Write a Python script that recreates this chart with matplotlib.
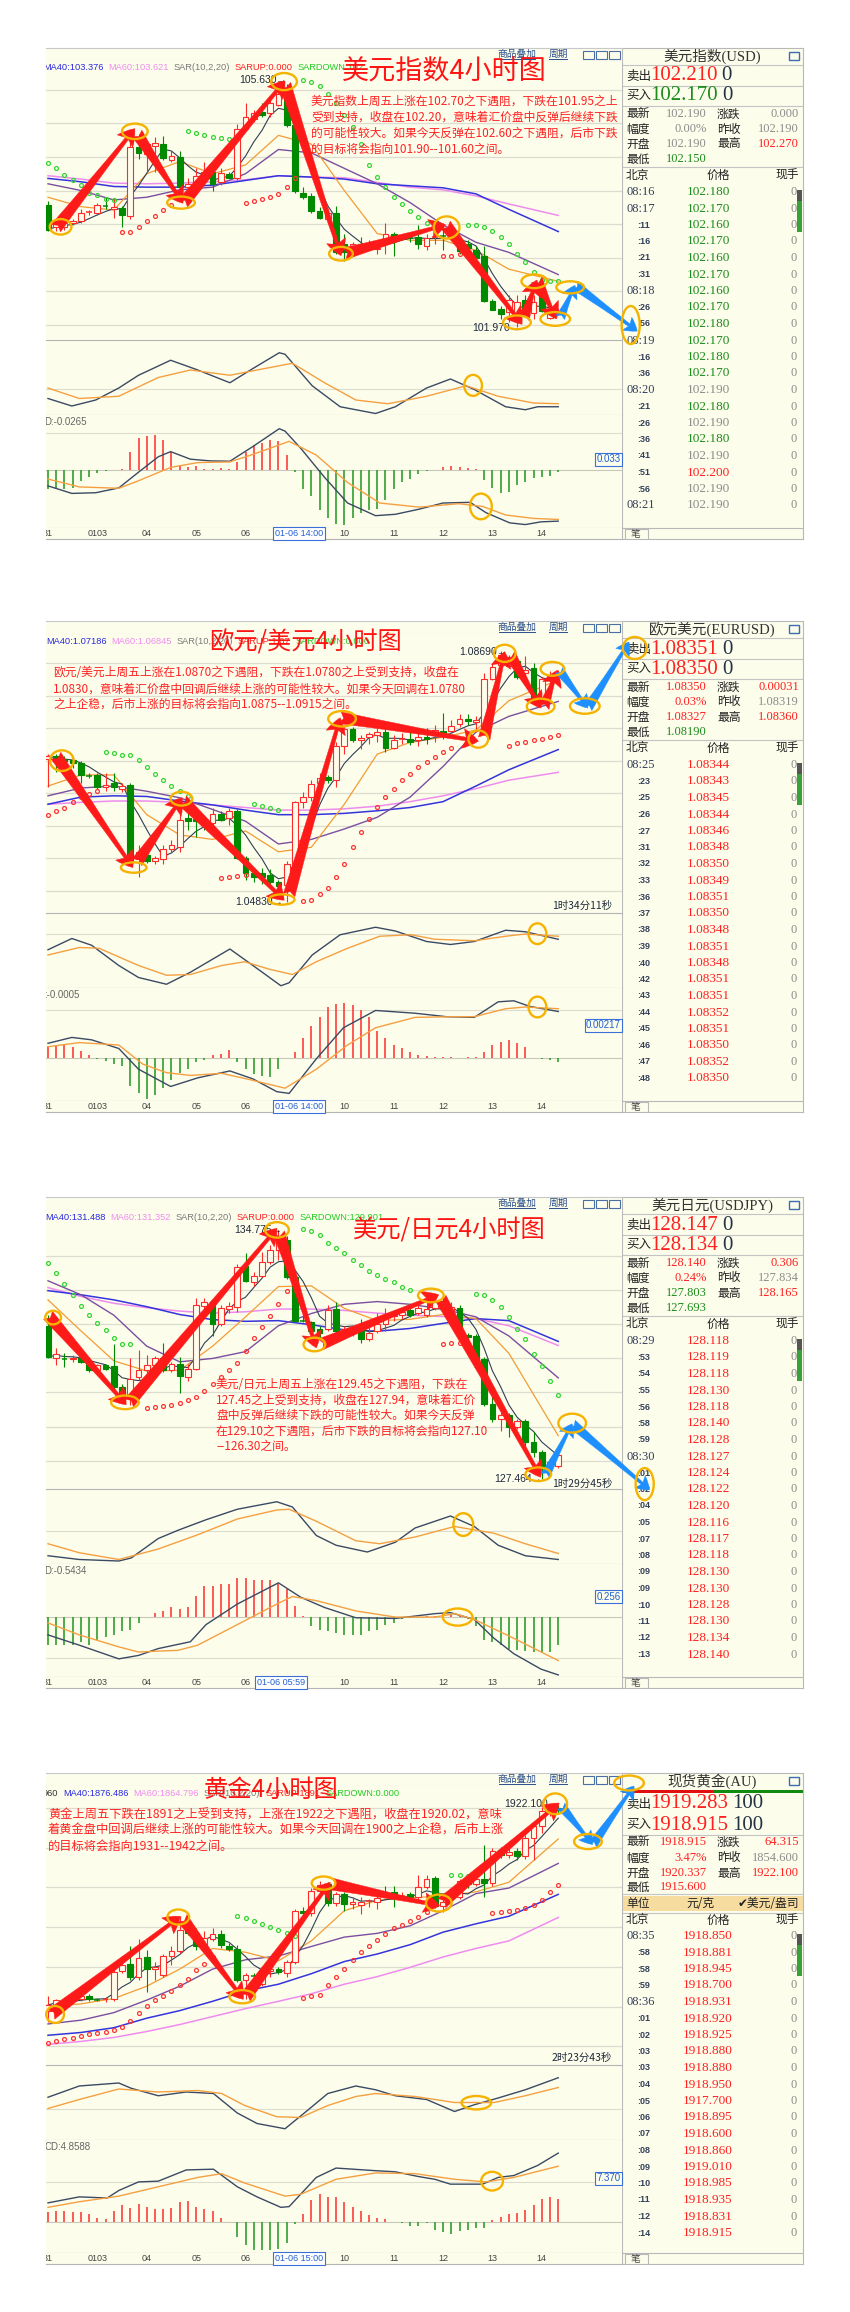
import matplotlib
matplotlib.use('Agg')
import matplotlib.pyplot as plt
from matplotlib.patches import Ellipse, Rectangle
import numpy as np
import pandas as pd

plt.rcParams['font.family'] = ['Noto Sans CJK SC', 'DejaVu Sans']
plt.rcParams['axes.unicode_minus'] = False

# ---------------- data ----------------
ma_x = [0, 4, 8, 12, 16, 20, 24, 28, 32, 36, 40, 44, 48, 52, 56, 62]
day_ticks = [0, 6, 12, 18, 24, 36, 42, 48, 54, 60]
day_labels = ['31', '0103', '04', '05', '06', '10', '11', '12', '13', '14']

# US dollar index (open, high, low, close)
usd_ohlc = [
    (103.78, 103.85, 103.40, 103.42), (103.45, 103.54, 103.40, 103.50), (103.46, 103.57, 103.42, 103.52),
    (103.52, 103.57, 103.49, 103.54), (103.54, 103.72, 103.51, 103.67), (103.67, 103.71, 103.64, 103.68),
    (103.67, 103.82, 103.64, 103.78), (103.78, 103.90, 103.72, 103.77), (103.73, 103.87, 103.59, 103.76),
    (103.74, 103.77, 103.46, 103.63), (103.62, 104.89, 103.57, 104.64), (104.64, 104.84, 104.47, 104.56),
    (104.55, 104.74, 104.28, 104.69), (104.66, 104.79, 104.28, 104.70), (104.69, 104.81, 104.46, 104.48),
    (104.46, 104.59, 104.43, 104.51), (104.50, 104.59, 103.97, 104.05), (104.05, 104.18, 104.00, 104.10),
    (104.08, 104.33, 104.05, 104.22), (104.20, 104.43, 104.18, 104.28), (104.27, 104.38, 104.00, 104.10),
    (104.13, 104.33, 104.08, 104.26), (104.24, 104.28, 104.18, 104.18), (104.18, 104.99, 104.15, 104.92),
    (104.92, 105.30, 104.89, 105.10), (105.07, 105.20, 105.02, 105.15), (105.17, 105.30, 105.10, 105.12),
    (105.15, 105.40, 105.10, 105.30), (105.27, 105.63, 105.25, 105.44), (105.44, 105.58, 104.94, 104.97),
    (104.98, 105.05, 103.97, 104.00), (103.97, 104.05, 103.88, 103.90), (103.92, 103.97, 103.67, 103.70),
    (103.70, 103.75, 103.58, 103.59), (103.57, 103.72, 103.51, 103.67), (103.67, 103.77, 103.06, 103.08),
    (103.20, 103.36, 102.95, 103.08), (103.08, 103.23, 103.03, 103.20), (103.20, 103.31, 103.08, 103.12),
    (103.16, 103.26, 103.11, 103.17), (103.13, 103.26, 103.06, 103.15), (103.23, 103.51, 103.05, 103.36),
    (103.36, 103.39, 103.03, 103.31), (103.31, 103.36, 103.26, 103.32), (103.31, 103.36, 103.23, 103.30),
    (103.31, 103.49, 103.13, 103.20), (103.18, 103.36, 103.11, 103.30), (103.31, 103.41, 103.21, 103.31),
    (103.34, 103.51, 103.11, 103.33), (103.32, 103.39, 103.26, 103.30), (103.26, 103.31, 103.06, 103.10),
    (103.20, 103.26, 103.03, 103.15), (103.12, 103.18, 103.00, 103.00), (103.03, 103.18, 102.34, 102.35),
    (102.35, 102.39, 102.22, 102.22), (102.24, 102.29, 102.09, 102.16), (102.19, 102.44, 102.04, 102.37),
    (102.09, 102.44, 101.97, 102.34), (102.37, 102.44, 102.14, 102.16), (102.18, 102.44, 102.09, 102.34),
    (102.55, 102.60, 102.19, 102.21), (102.11, 102.29, 102.09, 102.21), (102.18, 102.26, 102.15, 102.20),
]
usd_ma10 = [103.90, 103.76, 103.71, 104.25, 104.43, 104.25, 104.38, 104.82, 104.69, 104.00, 103.36, 103.26, 103.26, 103.11, 102.83, 102.65]
usd_ma20 = [104.10, 104.00, 103.86, 103.90, 104.01, 104.05, 104.25, 104.61, 104.56, 104.33, 104.10, 103.82, 103.49, 103.23, 103.08, 102.75]
usd_ma40 = [104.18, 104.13, 104.06, 104.05, 104.05, 104.08, 104.15, 104.22, 104.20, 104.17, 104.10, 104.07, 104.04, 103.95, 103.72, 103.39]
usd_ma60 = [104.22, 104.17, 104.11, 104.10, 104.11, 104.13, 104.16, 104.22, 104.20, 104.19, 104.12, 104.05, 104.01, 103.92, 103.80, 103.63]
usd_sar_dn = [(0, [104.41, 104.33, 104.23, 104.15, 104.08, 103.97, 103.93, 103.88, 103.86]),
              (17, [104.88, 104.85, 104.83, 104.80, 104.78, 104.77]),
              (31, [105.65, 105.61, 105.56, 105.43, 105.30, 105.12, 104.94, 104.69, 104.38, 104.20, 104.05, 103.91, 103.80, 103.69, 103.60, 103.51]),
              (51, [103.49, 103.48, 103.46, 103.40, 103.31, 103.20, 103.06, 102.93, 102.79, 102.67, 102.66, 102.66])]
usd_sar_up = [(9, [103.39, 103.39, 103.45, 103.54, 103.62, 103.71, 103.78]),
              (24, [103.81, 103.85, 103.88, 103.91, 103.95, 104.05, 104.18]),
              (48, [103.03, 103.03, 103.06])]
usd_k_x = [0, 2.9, 5.8, 8.6, 11, 14.9, 18.2, 22.1, 24.9, 28.1, 28.8, 32.1, 35.5, 39.8, 42.2, 46, 48.9, 51.8, 55.6, 58, 59.5, 62]
usd_k = [22, 12, 20, 36, 53, 73, 60, 43, 62, 83, 81, 39, 11, 2, 11, 36, 48, 34, 11, 7, 11, 11]
usd_d_x = [0, 3.8, 8.6, 13.4, 17.3, 22.1, 25.4, 29.7, 33.6, 37.4, 41.3, 46, 50.8, 54.7, 59, 62]
usd_d = [36, 22, 25, 50, 60, 53, 60, 69, 43, 20, 15, 25, 39, 25, 16, 15]
usd_dif_x = [0, 2.9, 5.8, 8.6, 11, 13.4, 14.9, 17.3, 19.7, 22.1, 24.9, 28.1, 28.8, 30.7, 33.6, 36.4, 39.8, 42.2, 45.1, 48, 51.3, 53.2, 56.1, 58, 59.9, 62]
usd_dif = [-0.047, -0.069, -0.067, -0.053, -0.007, 0.038, 0.053, 0.031, 0.026, 0.025, 0.068, 0.12, 0.113, 0.063, -0.022, -0.097, -0.134, -0.13, -0.115, -0.097, -0.095, -0.125, -0.155, -0.16, -0.152, -0.15]
usd_dea_x = [0, 3.8, 8.6, 11, 14.9, 18.2, 22.1, 24.9, 29.3, 32.6, 36.4, 40.3, 45.1, 49.9, 52.8, 55.6, 59, 62]
usd_dea = [-0.027, -0.05, -0.054, -0.032, 0.007, 0.021, 0.023, 0.045, 0.083, 0.043, -0.037, -0.097, -0.109, -0.099, -0.107, -0.132, -0.142, -0.145]
usd_hist = [-0.057, -0.057, -0.055, -0.052, -0.032, -0.022, -0.009, -0.003, -0.002, 0.001,
            0.053, 0.093, 0.098, 0.103, 0.088, 0.053, 0.013, 0.008, 0.011, 0.003,
            0.001, 0.005, 0.001, 0.023, 0.053, 0.073, 0.078, 0.088, 0.083, 0.043,
            -0.007, -0.057, -0.077, -0.117, -0.142, -0.157, -0.162, -0.142, -0.127, -0.117,
            -0.115, -0.087, -0.057, -0.037, -0.027, -0.012, -0.005, -0.002, 0.008, 0.011,
            0.008, 0.005, 0.003, -0.029, -0.052, -0.067, -0.065, -0.045, -0.037, -0.025,
            -0.02, -0.017, -0.007]
usd_red_arrows = [((0.96, 103.44), (10.55, 104.92)), ((10.8, 104.85), (16.4, 103.81)), ((16.4, 103.81), (28.8, 105.63)),
                  ((28.8, 105.58), (35.6, 103.03)), ((36.0, 103.06), (48.3, 103.49)), ((48.3, 103.49), (57.6, 102.01)),
                  ((57.8, 102.09), (59.4, 102.67)), ((59.4, 102.67), (61.8, 102.09))]
usd_blue_arrows = [((62.25, 102.11), (64.03, 102.59)), ((64.03, 102.59), (71.6, 101.91))]
usd_rings = [(1.53, 103.46, 2.64, 0.23), (10.55, 104.88, 3.12, 0.23), (16.16, 103.82, 3.36, 0.18), (28.68, 105.62, 3.12, 0.255),
             (35.6, 103.06, 2.88, 0.204), (48.44, 103.45, 3.12, 0.33), (56.98, 102.04, 3.36, 0.204), (59.09, 102.65, 3.12, 0.204),
             (61.63, 102.09, 3.6, 0.204), (63.45, 102.56, 3.36, 0.18), (70.8, 102.0, 2.2, 0.565)]
usd_note = ['美元指数上周五上涨在102.70之下遇阻，下跌在101.95之上',
            '受到支持，收盘在102.20，意味着汇价盘中反弹后继续下跌',
            '的可能性较大。如果今天反弹在102.60之下遇阻，后市下跌',
            '的目标将会指向101.90--101.60之间。']
usd_fields = [('最新', '102.190', 'k'), ('涨跌', '0.000', 'k'), ('幅度', '0.00%', 'k'), ('昨收', '102.190', 'k'),
              ('开盘', '102.190', 'k'), ('最高', '102.270', 'r'), ('最低', '102.150', 'g')]
usd_ticks = [('08:16', '102.180', 'g'), ('08:17', '102.170', 'g'), (':11', '102.160', 'g'), (':16', '102.170', 'g'),
             (':21', '102.160', 'g'), (':31', '102.170', 'g'), ('08:18', '102.160', 'g'), (':26', '102.170', 'g'),
             (':56', '102.180', 'g'), ('08:19', '102.170', 'g'), (':16', '102.180', 'g'), (':36', '102.170', 'g'),
             ('08:20', '102.190', 'k'), (':21', '102.180', 'g'), (':26', '102.190', 'k'), (':36', '102.180', 'g'),
             (':41', '102.190', 'k'), (':51', '102.200', 'r'), (':56', '102.190', 'k'), ('08:21', '102.190', 'k')]

# euro / dollar
eur_ohlc = [
    (1.0702, 1.0710, 1.0660, 1.0707), (1.0707, 1.0710, 1.0683, 1.0701), (1.0702, 1.0707, 1.0691, 1.0699),
    (1.0701, 1.0705, 1.0689, 1.0697), (1.0697, 1.0699, 1.0665, 1.0678), (1.0678, 1.0681, 1.0673, 1.0677),
    (1.0678, 1.0681, 1.0657, 1.0660), (1.0659, 1.0681, 1.0654, 1.0662), (1.0666, 1.0681, 1.0654, 1.0660),
    (1.0657, 1.0665, 1.0652, 1.0661), (1.0662, 1.0665, 1.0541, 1.0544), (1.0549, 1.0570, 1.0522, 1.0559),
    (1.0555, 1.0562, 1.0543, 1.0546), (1.0546, 1.0554, 1.0541, 1.0551), (1.0549, 1.0570, 1.0541, 1.0565),
    (1.0564, 1.0578, 1.0559, 1.0570), (1.0567, 1.0638, 1.0559, 1.0609), (1.0612, 1.0623, 1.0593, 1.0607),
    (1.0610, 1.0625, 1.0583, 1.0607), (1.0607, 1.0615, 1.0593, 1.0601), (1.0604, 1.0628, 1.0599, 1.0618),
    (1.0618, 1.0623, 1.0607, 1.0609), (1.0612, 1.0628, 1.0601, 1.0623), (1.0623, 1.0625, 1.0549, 1.0551),
    (1.0551, 1.0554, 1.0517, 1.0528), (1.0528, 1.0535, 1.0514, 1.0522), (1.0527, 1.0535, 1.0511, 1.0522),
    (1.0525, 1.0533, 1.0511, 1.0514), (1.0514, 1.0517, 1.0493, 1.0507), (1.0509, 1.0546, 1.0483, 1.0541),
    (1.0541, 1.0638, 1.0538, 1.0636), (1.0636, 1.0652, 1.0628, 1.0644), (1.0644, 1.0670, 1.0638, 1.0664),
    (1.0665, 1.0681, 1.0660, 1.0674), (1.0675, 1.0678, 1.0665, 1.0670), (1.0671, 1.0728, 1.0660, 1.0722),
    (1.0723, 1.0755, 1.0710, 1.0748), (1.0748, 1.0752, 1.0728, 1.0731), (1.0731, 1.0739, 1.0718, 1.0735),
    (1.0736, 1.0744, 1.0726, 1.0741), (1.0739, 1.0750, 1.0728, 1.0744), (1.0744, 1.0750, 1.0713, 1.0720),
    (1.0720, 1.0739, 1.0718, 1.0732), (1.0733, 1.0742, 1.0726, 1.0733), (1.0733, 1.0744, 1.0724, 1.0729),
    (1.0731, 1.0750, 1.0723, 1.0736), (1.0736, 1.0750, 1.0726, 1.0733), (1.0739, 1.0755, 1.0728, 1.0747),
    (1.0746, 1.0773, 1.0734, 1.0742), (1.0746, 1.0763, 1.0742, 1.0753), (1.0756, 1.0771, 1.0752, 1.0764),
    (1.0764, 1.0771, 1.0755, 1.0761), (1.0760, 1.0768, 1.0744, 1.0763), (1.0744, 1.0834, 1.0739, 1.0825),
    (1.0826, 1.0850, 1.0824, 1.0844), (1.0847, 1.0869, 1.0845, 1.0863), (1.0845, 1.0863, 1.0842, 1.0850),
    (1.0853, 1.0858, 1.0826, 1.0829), (1.0834, 1.0861, 1.0832, 1.0839), (1.0842, 1.0850, 1.0789, 1.0795),
    (1.0797, 1.0829, 1.0787, 1.0825), (1.0824, 1.0837, 1.0818, 1.0830), (1.0829, 1.0839, 1.0824, 1.0834),
]
eur_ma10 = [1.0661, 1.0678, 1.0678, 1.0617, 1.0586, 1.0579, 1.0592, 1.0560, 1.0567, 1.0633, 1.0710, 1.0728, 1.0736, 1.0747, 1.0792, 1.0824]
eur_ma20 = [1.0646, 1.0658, 1.0661, 1.0653, 1.0643, 1.0625, 1.0607, 1.0572, 1.0579, 1.0595, 1.0613, 1.0644, 1.0691, 1.0744, 1.0768, 1.0791]
eur_ma40 = [1.0633, 1.0644, 1.0646, 1.0645, 1.0638, 1.0632, 1.0624, 1.0617, 1.0617, 1.0619, 1.0623, 1.0628, 1.0637, 1.0661, 1.0686, 1.0717]
eur_ma60 = [1.0633, 1.0636, 1.0638, 1.0638, 1.0636, 1.0632, 1.0628, 1.0624, 1.0624, 1.0626, 1.0630, 1.0637, 1.0646, 1.0657, 1.0670, 1.0682]
eur_sar_up = [(0, [1.0616, 1.0622, 1.0628, 1.0636, 1.0644, 1.0648, 1.0653]),
              (21, [1.0519, 1.0521, 1.0523, 1.0525]),
              (31, [1.0484, 1.0486, 1.0495, 1.0505, 1.0521, 1.0542, 1.0567, 1.0590, 1.0611, 1.0629, 1.0644, 1.0657,
                    1.0670, 1.0680, 1.0690, 1.0698, 1.0706, 1.0713, 1.0719]),
              (56, [1.0723, 1.0727, 1.0729, 1.0731, 1.0734, 1.0736, 1.0740])]
eur_sar_dn = [(7, [1.0713, 1.0711, 1.0709, 1.0708, 1.0701, 1.0690, 1.0680, 1.0670, 1.0661, 1.0653, 1.0645]),
              (25, [1.0633, 1.0630, 1.0628, 1.0624])]
eur_k_x = [0, 2.9, 5.3, 8.6, 11, 14.4, 17.3, 22.1, 24.9, 28.3, 29.3, 32.1, 35.5, 39.8, 42.2, 46, 48.9, 51.8, 55.6, 58, 62]
eur_k = [51, 66, 57, 30, 14, 5, 21, 52, 30, 3, 7, 44, 71, 81, 76, 62, 58, 62, 77, 75, 65]
eur_d_x = [0, 3.8, 6.2, 11, 14.4, 17.3, 21.1, 23.9, 26.9, 29.7, 32.6, 36.4, 40.3, 44.1, 47, 51.8, 55.6, 58, 62]
eur_d = [44, 54, 53, 30, 17, 18, 30, 35, 25, 18, 35, 53, 69, 71, 65, 63, 69, 72, 69]
eur_dif_x = [0, 2.9, 5.3, 8.6, 11, 14.9, 18.2, 22.1, 24.9, 27.8, 29.3, 32.6, 35.9, 39.8, 44.6, 48.4, 51.8, 54.7, 56.6, 58.5, 62]
eur_dif = [0.042, 0.059, 0.052, 0.027, -0.033, -0.083, -0.058, -0.038, -0.061, -0.098, -0.103, -0.003, 0.087, 0.137, 0.129, 0.119, 0.117, 0.162, 0.165, 0.149, 0.134]
eur_dea_x = [0, 3.8, 8.6, 11.5, 14.4, 17.3, 21.1, 24.5, 28.8, 32.6, 36.4, 39.8, 44.6, 49.4, 51.8, 55.6, 58, 62]
eur_dea = [0.032, 0.044, 0.037, -0.018, -0.043, -0.051, -0.045, -0.063, -0.088, -0.033, 0.037, 0.087, 0.117, 0.119, 0.119, 0.142, 0.147, 0.142]
eur_hist = [0.035, 0.035, 0.037, 0.032, 0.019, 0.007, -0.003, -0.008, -0.018, -0.023,
            -0.083, -0.103, -0.118, -0.108, -0.088, -0.063, -0.043, -0.033, -0.013, -0.005,
            0.007, 0.012, 0.022, -0.013, -0.033, -0.048, -0.053, -0.055, -0.033, -0.002,
            0.017, 0.057, 0.092, 0.117, 0.147, 0.157, 0.159, 0.152, 0.137, 0.117,
            0.077, 0.057, 0.037, 0.027, 0.017, 0.009, 0.004, 0.002, 0.001, 0.001,
            0.0, 0.001, 0.002, 0.017, 0.037, 0.047, 0.052, 0.042, 0.030, -0.001,
            -0.003, -0.006, -0.013]
eur_red_arrows = [((0.96, 1.07077), (10.31, 1.05358)), ((10.8, 1.05438), (16.3, 1.06432)), ((16.3, 1.06390), (28.7, 1.04856)),
                  ((29.3, 1.04936), (35.5, 1.07659)), ((35.5, 1.07659), (52.3, 1.07299)), ((53.0, 1.07341), (55.5, 1.08674)),
                  ((56.1, 1.08637), (59.9, 1.07807)), ((60.2, 1.07817), (61.9, 1.08389))]
eur_blue_arrows = [((62.1, 1.08389), (65.6, 1.07807)), ((65.6, 1.07807), (70.6, 1.08822))]
eur_rings = [(1.68, 1.07000, 2.88, 0.00317), (10.41, 1.05358, 3.12, 0.00159), (16.21, 1.06416, 2.64, 0.00212),
             (28.39, 1.04867, 3.12, 0.00159), (35.73, 1.07643, 3.36, 0.00238), (52.28, 1.07331, 2.4, 0.00264),
             (55.49, 1.08648, 2.64, 0.00264), (59.86, 1.07833, 3.36, 0.00238), (61.29, 1.08410, 2.88, 0.00212),
             (65.23, 1.07839, 3.6, 0.00238), (71.3, 1.08730, 2.9, 0.00338)]
eur_note = ['欧元/美元上周五上涨在1.0870之下遇阻，下跌在1.0780之上受到支持，收盘在',
            '1.0830，意味着汇价盘中回调后继续上涨的可能性较大。如果今天回调在1.0780',
            '之上企稳，后市上涨的目标将会指向1.0875--1.0915之间。']
eur_fields = [('最新', '1.08350', 'r'), ('涨跌', '0.00031', 'r'), ('幅度', '0.03%', 'r'), ('昨收', '1.08319', 'k'),
              ('开盘', '1.08327', 'r'), ('最高', '1.08360', 'r'), ('最低', '1.08190', 'g')]
eur_times = ['08:25', ':23', ':25', ':26', ':27', ':31', ':32', ':33', ':36', ':37',
             ':38', ':39', ':40', ':42', ':43', ':44', ':45', ':46', ':47', ':48']
eur_prices = ['1.08344', '1.08343', '1.08345', '1.08344', '1.08346', '1.08348', '1.08350', '1.08349', '1.08351', '1.08350',
              '1.08348', '1.08351', '1.08348', '1.08351', '1.08351', '1.08352', '1.08351', '1.08350', '1.08352', '1.08350']

# dollar / yen
jpy_ohlc = [
    (131.94, 132.27, 131.00, 131.05), (131.00, 131.31, 130.80, 131.13), (131.02, 131.15, 130.75, 130.99),
    (130.98, 131.10, 130.90, 131.02), (131.00, 131.05, 130.87, 130.90), (130.90, 131.05, 130.60, 130.67),
    (130.65, 130.85, 130.60, 130.80), (130.80, 130.85, 130.65, 130.68), (130.77, 131.41, 130.04, 130.16),
    (130.16, 130.25, 129.74, 129.86), (129.86, 131.00, 129.64, 130.40), (130.45, 131.26, 130.37, 130.65),
    (130.65, 131.10, 130.57, 130.80), (130.80, 131.07, 130.65, 131.00), (131.00, 131.46, 130.60, 130.67),
    (130.65, 130.90, 130.60, 130.83), (130.85, 131.05, 129.99, 130.47), (130.45, 130.85, 130.35, 130.70),
    (130.70, 132.77, 130.65, 132.57), (132.55, 132.77, 132.37, 132.67), (132.67, 132.72, 131.66, 132.01),
    (132.01, 132.57, 131.96, 132.47), (132.45, 132.67, 132.32, 132.55), (132.52, 133.78, 132.37, 133.68),
    (133.70, 134.09, 133.23, 133.28), (133.23, 133.53, 133.13, 133.43), (133.43, 134.14, 133.38, 133.83),
    (133.83, 134.34, 133.78, 134.19), (134.19, 134.775, 133.89, 134.47), (134.47, 134.59, 133.33, 133.40),
    (133.38, 133.43, 132.06, 132.11), (132.14, 132.27, 132.06, 132.11), (132.06, 132.11, 131.76, 131.81),
    (131.86, 131.96, 131.61, 131.76), (131.86, 132.57, 131.81, 132.42), (132.45, 132.67, 131.76, 131.81),
    (131.78, 131.96, 131.71, 131.86), (131.78, 131.96, 131.66, 131.91), (131.91, 132.17, 131.46, 131.56),
    (131.56, 132.06, 131.51, 131.76), (131.81, 132.32, 131.76, 132.01), (132.01, 132.47, 131.81, 132.22),
    (132.25, 132.37, 132.11, 132.29), (132.27, 132.47, 132.17, 132.37), (132.42, 132.57, 132.22, 132.29),
    (132.32, 132.67, 132.27, 132.47), (132.29, 132.67, 132.22, 132.45), (132.49, 132.77, 132.42, 132.67),
    (132.69, 132.82, 132.37, 132.45), (132.42, 132.67, 132.32, 132.52), (132.49, 132.57, 131.61, 131.68),
    (131.68, 131.76, 131.46, 131.64), (131.66, 131.71, 130.90, 130.97), (130.97, 131.05, 129.59, 129.66),
    (129.66, 130.04, 129.13, 129.23), (129.21, 129.44, 128.88, 129.34), (129.34, 129.39, 128.68, 128.98),
    (128.98, 129.23, 128.93, 129.16), (129.16, 129.23, 128.42, 128.55), (128.55, 128.83, 128.12, 128.24),
    (128.24, 128.32, 127.464, 127.80), (127.84, 128.07, 127.72, 127.97), (127.84, 128.22, 127.77, 128.15),
]
jpy_ma10 = [132.72, 131.81, 130.93, 130.63, 130.65, 131.36, 132.22, 133.11, 133.13, 132.47, 132.11, 132.15, 132.29, 132.17, 131.15, 128.73]
jpy_ma20 = [133.28, 132.87, 132.27, 131.36, 130.90, 131.00, 131.20, 131.96, 132.32, 132.59, 132.67, 132.59, 132.45, 132.22, 131.66, 130.43]
jpy_ma40 = [132.99, 132.87, 132.72, 132.52, 132.29, 132.14, 132.09, 132.11, 131.99, 131.84, 131.80, 131.88, 132.03, 132.17, 132.11, 131.50]
jpy_ma60 = [133.08, 132.82, 132.62, 132.49, 132.39, 132.33, 132.37, 132.45, 132.45, 132.41, 132.33, 132.27, 132.23, 132.17, 131.96, 131.38]
jpy_sar_dn = [(0, [133.80, 133.51, 133.20, 132.85, 132.55, 132.29, 132.04, 131.83, 131.61, 131.43, 131.41]),
              (31, [134.80, 134.74, 134.63, 134.39, 134.24, 134.09, 133.89, 133.73, 133.58, 133.46, 133.33, 133.23, 133.10, 133.00]),
              (52, [132.89, 132.85, 132.72, 132.52, 132.22, 131.86, 131.56, 131.13, 130.77, 130.33, 129.92])]
jpy_sar_up = [(12, [129.54, 129.56, 129.59, 129.64, 129.69, 129.79, 129.86, 130.04, 130.26, 130.45, 130.65, 130.87,
                    131.22, 131.61, 131.91, 132.25, 132.59, 132.98]),
              (48, [131.41, 131.44, 131.46])]
jpy_k_x = [0, 3.8, 8.6, 10.1, 13.4, 15.8, 19.2, 23, 27.8, 29.7, 32.6, 35, 38.8, 42.2, 44.6, 48.9, 51.8, 54.7, 58, 62]
jpy_k = [11, 6, 4, 8, 34, 45, 59, 73, 83, 76, 38, 25, 16, 29, 48, 64, 50, 25, 11, 6]
jpy_d_x = [0, 3.8, 8.6, 13.4, 18.2, 23, 27.8, 29.3, 32.6, 37.4, 40.3, 44.6, 49.4, 54.2, 58, 62]
jpy_d = [27, 15, 6, 20, 39, 60, 72, 73, 57, 31, 27, 36, 50, 41, 27, 14]
jpy_dif_x = [0, 3.8, 8.6, 11, 13.4, 17.3, 19.2, 23, 28, 30.7, 33.6, 37.4, 42.2, 47, 48.9, 51.8, 54.2, 56.6, 59.9, 62]
jpy_dif = [-0.053, -0.083, -0.123, -0.113, -0.093, -0.073, -0.023, 0.037, 0.099, 0.057, 0.027, -0.003, -0.005, 0.009, 0.012, -0.008, -0.063, -0.108, -0.153, -0.17]
jpy_dea_x = [0, 3.8, 8.6, 11, 15.8, 18.2, 23, 27.8, 29.7, 32.6, 37.4, 42.2, 47, 49.4, 51.8, 56.6, 62]
jpy_dea = [-0.018, -0.053, -0.088, -0.103, -0.098, -0.083, -0.023, 0.037, 0.059, 0.047, 0.017, -0.001, -0.001, 0.009, -0.008, -0.063, -0.128]
jpy_hist = [-0.083, -0.083, -0.083, -0.083, -0.073, -0.083, -0.068, -0.058, -0.053, -0.043,
            -0.038, -0.018, -0.002, 0.012, 0.017, 0.027, 0.022, 0.027, 0.062, 0.089,
            0.089, 0.095, 0.095, 0.114, 0.112, 0.107, 0.107, 0.107, 0.097, 0.082,
            0.032, 0.001, -0.028, -0.038, -0.043, -0.048, -0.053, -0.053, -0.053, -0.043,
            -0.038, -0.023, -0.018, -0.008, -0.003, -0.002, 0.002, 0.003, 0.009, 0.007,
            0.005, -0.008, -0.028, -0.068, -0.073, -0.083, -0.093, -0.098, -0.101, -0.103,
            -0.103, -0.103, -0.083]
jpy_red_arrows = [((0.0, 132.27), (9.5, 129.64)), ((9.83, 129.69), (27.82, 134.82)), ((28.06, 134.69), (32.61, 131.31)),
                  ((33.09, 131.41), (47.48, 132.87)), ((47.72, 132.77), (59.86, 127.51))]
jpy_blue_arrows = [((60.43, 127.56), (63.69, 129.08)), ((63.69, 129.08), (73.1, 127.14))]
jpy_rings = [(0.62, 132.20, 1.92, 0.40), (9.35, 129.71, 3.36, 0.40), (27.82, 134.775, 2.88, 0.455), (32.37, 131.41, 2.64, 0.40),
             (46.52, 132.85, 3.12, 0.40), (59.57, 127.60, 3.12, 0.40), (63.69, 129.10, 3.36, 0.556), (72.5, 127.31, 2.2, 0.94)]
jpy_note = ['美元/日元上周五上涨在129.45之下遇阻，下跌在',
            '127.45之上受到支持，收盘在127.94，意味着汇价',
            '盘中反弹后继续下跌的可能性较大。如果今天反弹',
            '在129.10之下遇阻，后市下跌的目标将会指向127.10',
            '--126.30之间。']
jpy_fields = [('最新', '128.140', 'r'), ('涨跌', '0.306', 'r'), ('幅度', '0.24%', 'r'), ('昨收', '127.834', 'k'),
              ('开盘', '127.803', 'g'), ('最高', '128.165', 'r'), ('最低', '127.693', 'g')]
jpy_times = ['08:29', ':53', ':54', ':55', ':56', ':58', ':59', '08:30', ':01', ':02',
             ':04', ':05', ':07', ':08', ':09', ':09', ':10', ':11', ':12', ':13']
jpy_prices = ['128.118', '128.119', '128.118', '128.130', '128.118', '128.140', '128.128', '128.127', '128.124', '128.122',
              '128.120', '128.116', '128.117', '128.118', '128.130', '128.130', '128.128', '128.130', '128.134', '128.140']

# spot gold
gold_ohlc = [
    (1818.0, 1825.6, 1812.3, 1820.8), (1819.9, 1824.1, 1817.0, 1823.3), (1823.3, 1824.6, 1821.8, 1822.9),
    (1822.9, 1824.1, 1821.8, 1823.7), (1823.7, 1825.9, 1822.7, 1825.2), (1825.6, 1826.5, 1822.7, 1823.7),
    (1823.7, 1824.6, 1822.7, 1823.5), (1823.5, 1824.6, 1822.2, 1823.9), (1823.7, 1838.9, 1822.7, 1837.4),
    (1837.9, 1845.5, 1837.0, 1841.2), (1841.7, 1850.3, 1833.2, 1835.1), (1834.7, 1854.1, 1833.2, 1844.6),
    (1845.0, 1848.4, 1827.5, 1839.2), (1839.2, 1842.7, 1833.2, 1840.0), (1836.0, 1846.5, 1835.1, 1845.5),
    (1845.5, 1850.3, 1840.8, 1848.0), (1848.0, 1865.5, 1846.9, 1858.4), (1858.8, 1861.7, 1856.0, 1856.9),
    (1856.9, 1859.8, 1848.4, 1850.7), (1850.7, 1857.9, 1849.3, 1854.5), (1854.1, 1859.4, 1853.1, 1856.6),
    (1856.6, 1858.8, 1849.3, 1850.9), (1850.7, 1852.2, 1848.0, 1849.1), (1848.9, 1851.2, 1832.2, 1833.6),
    (1833.6, 1836.9, 1823.7, 1835.7), (1835.7, 1837.0, 1834.1, 1835.5), (1831.3, 1839.8, 1830.3, 1838.5),
    (1837.9, 1839.8, 1835.1, 1838.9), (1838.9, 1839.8, 1836.6, 1837.4), (1837.0, 1843.6, 1835.1, 1842.7),
    (1842.7, 1869.3, 1841.7, 1867.9), (1868.3, 1870.2, 1865.5, 1867.0), (1867.0, 1879.7, 1865.5, 1878.4),
    (1878.4, 1883.0, 1876.9, 1881.2), (1881.6, 1882.6, 1870.8, 1872.0), (1872.0, 1877.8, 1870.8, 1876.5),
    (1876.9, 1877.8, 1868.3, 1871.6), (1871.6, 1875.0, 1869.3, 1872.7), (1871.2, 1875.0, 1866.4, 1872.7),
    (1872.7, 1874.0, 1870.2, 1873.1), (1872.7, 1876.9, 1869.3, 1874.6), (1877.3, 1880.7, 1875.0, 1875.9),
    (1877.8, 1880.7, 1870.2, 1875.4), (1875.4, 1877.8, 1874.0, 1875.9), (1876.5, 1877.8, 1874.6, 1875.4),
    (1875.4, 1886.4, 1873.5, 1880.3), (1880.3, 1886.4, 1879.2, 1884.5), (1884.9, 1886.0, 1869.7, 1870.8),
    (1870.8, 1875.0, 1867.4, 1872.7), (1877.3, 1878.8, 1874.0, 1875.4), (1875.4, 1884.5, 1874.0, 1883.0),
    (1883.5, 1886.4, 1879.7, 1881.6), (1881.6, 1886.4, 1880.7, 1884.1), (1884.1, 1901.6, 1875.0, 1882.2),
    (1882.2, 1899.7, 1880.7, 1898.2), (1898.7, 1900.6, 1894.9, 1896.3), (1896.3, 1899.7, 1894.9, 1897.8),
    (1898.2, 1899.7, 1894.0, 1895.9), (1895.9, 1906.3, 1894.4, 1905.0), (1905.0, 1913.0, 1894.0, 1910.7),
    (1910.7, 1920.6, 1907.3, 1918.7), (1918.7, 1922.1, 1915.8, 1920.9), (1920.0, 1921.5, 1917.7, 1919.1),
]
gold_ma10 = [1819.9, 1821.4, 1824.1, 1830.3, 1838.9, 1849.3, 1847.4, 1843.1, 1853.1, 1868.3, 1873.5, 1875.0, 1875.4, 1877.8, 1882.6, 1904.4]
gold_ma20 = [1811.3, 1813.2, 1817.0, 1823.3, 1830.3, 1838.9, 1843.6, 1845.5, 1850.3, 1855.0, 1856.9, 1860.7, 1868.3, 1876.9, 1879.7, 1892.1]
gold_ma40 = [1805.6, 1807.0, 1809.4, 1814.2, 1818.0, 1822.7, 1827.9, 1831.3, 1836.6, 1842.7, 1846.5, 1851.2, 1857.5, 1861.7, 1865.5, 1876.5]
gold_ma60 = [1801.0, 1802.5, 1804.5, 1807.5, 1811.0, 1815.0, 1819.0, 1822.7, 1826.5, 1831.3, 1835.1, 1839.8, 1845.0, 1849.3, 1853.1, 1864.9]
gold_sar_up = [(0, [1801.8, 1802.8, 1803.7, 1804.3, 1805.2, 1806.2, 1806.9, 1807.5, 1808.5, 1810.0, 1812.7, 1817.0,
                    1820.2, 1823.3, 1825.6, 1828.1, 1830.7, 1834.1, 1838.5, 1841.5, 1845.0]),
               (31, [1824.6, 1825.6, 1826.0, 1830.7, 1835.1, 1839.2, 1843.6, 1847.4, 1850.7, 1853.7, 1856.4, 1859.4,
                     1861.3, 1863.2, 1865.1, 1867.4]),
               (54, [1867.0, 1867.4, 1867.9, 1868.7, 1869.8, 1871.2, 1873.5, 1877.5, 1881.1])]
gold_sar_dn = [(23, [1865.5, 1864.5, 1863.0, 1861.7, 1860.2, 1858.6, 1856.9, 1855.6]),
               (49, [1886.4, 1886.4, 1886.0])]
gold_k_x = [0, 3.8, 8.6, 10.1, 13.4, 16.8, 20.1, 23, 25.4, 28.8, 31.7, 34, 37.4, 39.8, 42.2, 46, 49.4, 51.8, 54.7, 58, 62]
gold_k = [57, 72, 76, 69, 59, 64, 62, 36, 22, 15, 41, 62, 72, 67, 59, 54, 38, 47, 56, 67, 83]
gold_d_x = [0, 3.8, 8.6, 13.4, 18.2, 21.1, 23.9, 27.8, 30.7, 34, 37.4, 39.8, 44.6, 49.4, 54.2, 58, 62]
gold_d = [42, 54, 68, 64, 66, 62, 46, 31, 30, 46, 58, 62, 58, 50, 50, 59, 70]
gold_dif_x = [0, 3.8, 7.2, 8.6, 11, 13.4, 16.8, 20.1, 23, 25.4, 28.3, 29.3, 32.6, 35, 39.8, 42.2, 45.1, 47, 48.9, 52.8, 54.7, 56.6, 59.5, 62]
gold_dif = [0.052, 0.068, 0.065, 0.085, 0.108, 0.11, 0.14, 0.142, 0.095, 0.068, 0.04, 0.042, 0.12, 0.145, 0.138, 0.135, 0.122, 0.115, 0.102, 0.102, 0.12, 0.125, 0.152, 0.185]
gold_dea_x = [0, 3.8, 8.6, 13.4, 18.2, 21.1, 23.9, 28.8, 30.7, 35, 39.8, 44.6, 49.4, 53.2, 56.6, 62]
gold_dea = [0.04, 0.055, 0.07, 0.095, 0.12, 0.13, 0.105, 0.07, 0.075, 0.115, 0.132, 0.13, 0.115, 0.108, 0.12, 0.15]
gold_hist = [0.027, 0.03, 0.03, 0.028, 0.028, 0.022, 0.012, 0.01, 0.03, 0.047,
             0.037, 0.05, 0.04, 0.035, 0.035, 0.037, 0.055, 0.057, 0.04, 0.035,
             0.03, 0.012, 0.0, -0.04, -0.06, -0.075, -0.075, -0.075, -0.07, -0.055,
             -0.005, 0.022, 0.06, 0.075, 0.068, 0.068, 0.055, 0.042, 0.03, 0.02,
             0.012, 0.008, 0.002, -0.002, -0.01, -0.01, -0.002, -0.02, -0.025, -0.032,
             -0.022, -0.02, -0.015, -0.015, 0.005, 0.015, 0.022, 0.025, 0.032, 0.045,
             0.063, 0.068, 0.063]
gold_red_arrows = [((0.38, 1816.08), (16.07, 1865.48)), ((16.31, 1864.53), (23.74, 1823.68)), ((23.98, 1824.63), (34.29, 1882.58)),
                   ((34.53, 1881.63), (47.58, 1870.8)), ((47.87, 1872.13), (62.11, 1922.48))]
gold_blue_arrows = [((62.35, 1920.96), (66.19, 1901.58)), ((66.19, 1901.58), (71.2, 1931.06))]
gold_rings = [(0.86, 1816.08, 2.16, 8.55), (15.83, 1865.1, 2.64, 7.6), (23.6, 1825.0, 3.12, 6.65), (33.48, 1882.2, 2.88, 6.65),
              (47.48, 1872.15, 3.12, 8.55), (61.63, 1922.1, 2.88, 10.45), (65.61, 1903.1, 3.36, 7.6), (70.6, 1932.57, 3.6, 7.5)]
gold_note = ['黄金上周五下跌在1891之上受到支持，上涨在1922之下遇阻，收盘在1920.02，意味',
             '着黄金盘中回调后继续上涨的可能性较大。如果今天回调在1900之上企稳，后市上涨',
             '的目标将会指向1931--1942之间。']
gold_fields = [('最新', '1918.915', 'r'), ('涨跌', '64.315', 'r'), ('幅度', '3.47%', 'r'), ('昨收', '1854.600', 'k'),
               ('开盘', '1920.337', 'r'), ('最高', '1922.100', 'r'), ('最低', '1915.600', 'r')]
gold_times = ['08:35', ':58', ':58', ':59', '08:36', ':01', ':02', ':03', ':03', ':04',
              ':05', ':06', ':07', ':08', ':09', ':10', ':11', ':12', ':14']
gold_prices = ['1918.850', '1918.881', '1918.945', '1918.700', '1918.931', '1918.920', '1918.925', '1918.880', '1918.880', '1918.950',
               '1917.700', '1918.895', '1918.600', '1918.860', '1919.010', '1918.985', '1918.935', '1918.831', '1918.915']

# ---------------- styling / layout ----------------
W, H = 850, 2312
BG = '#fdfdec'
SANS = ['Liberation Sans', 'DejaVu Sans', 'Noto Sans CJK SC']
SERIF = ['Liberation Serif', 'Noto Sans CJK SC', 'DejaVu Sans']
RED, GREEN, GRAY = '#ff2020', '#1c8c1c', '#8c8c8c'
CK = {'r': RED, 'g': GREEN, 'k': GRAY}
UP, DOWN = '#ff2a2a', '#008a00'
DARK, ORANGE = '#3a4a63', '#f5a040'
RING = '#f5b300'
X0, X1 = 46, 622
XLIM = ((X0 - 48) / 8.23, (X1 - 48) / 8.23)

fig = plt.figure(figsize=(W / 100, H / 100), dpi=100)
fig.patch.set_facecolor('white')


def px_rect(x0, y0, x1, y1):
    return [x0 / W, 1 - y1 / H, (x1 - x0) / W, (y1 - y0) / H]


def clean(ax, ylim):
    ax.set_xlim(*XLIM)
    ax.set_ylim(*ylim)
    ax.set_facecolor(BG)
    ax.set_xticks([])
    ax.set_yticks([])
    for s in ('top', 'left', 'right'):
        ax.spines[s].set_visible(False)
    ax.spines['bottom'].set_color('#b4b4b4')


def draw_candles(ax, ohlc):
    lo_y, hi_y = ax.get_ylim()
    tiny = (hi_y - lo_y) * 0.004
    for i, (o, h, l, c) in enumerate(ohlc):
        col = UP if c >= o else DOWN
        ax.vlines(i, l, h, color=col, lw=0.8, zorder=3)
        b0, b1 = min(o, c), max(o, c)
        if b1 - b0 < tiny:
            ax.hlines(c, i - 0.35, i + 0.35, color=col, lw=1.1, zorder=4)
        else:
            ax.add_patch(Rectangle((i - 0.35, b0), 0.7, b1 - b0, fc=BG if c >= o else col,
                                   ec=col, lw=0.8, zorder=4))


def draw_sar(ax, segs, col):
    for start, vals in segs:
        xs = np.arange(start, start + len(vals))
        ax.plot(xs, vals, ls='none', marker='o', ms=2.8, mfc='none', mec=col, mew=0.9, zorder=5)


def arrow(ax, p0, p1, col, scale):
    ax.annotate('', xy=p1, xytext=p0, annotation_clip=False, zorder=8,
                arrowprops=dict(arrowstyle='fancy,head_length=0.6,head_width=0.75,tail_width=0.45',
                                fc=col, ec=col, lw=0.3, shrinkA=0, shrinkB=0, mutation_scale=scale))


def ring(ax, x, y, w, h):
    ax.add_patch(Ellipse((x, y), w, h, fill=False, ec=RING, lw=1.7, zorder=9, clip_on=False))


def draw_chart(T, c):
    # toolbar strip
    tb = fig.add_axes(px_rect(X0, T, X1, T + 13))
    tb.set_xlim(X0, X1)
    tb.set_ylim(T + 13, T)
    tb.set_facecolor(BG)
    tb.set_xticks([])
    tb.set_yticks([])
    for s in ('left', 'right'):
        tb.spines[s].set_visible(False)
    tb.spines['top'].set_color('#c8c8c8')
    tb.spines['bottom'].set_color('#c8c8c8')
    for label, xc, half in (('商品叠加', 517, 18), ('周期', 558, 9)):
        tb.text(xc, T + 6, label, fontsize=7, color='#2b4f8c', ha='center', va='center')
        tb.plot([xc - half, xc + half], [T + 11, T + 11], color='#2b4f8c', lw=0.7)
    for xb in (583, 596, 609):
        tb.add_patch(Rectangle((xb, T + 3), 11, 8, fill=False, ec='#4a6fa5', lw=0.8))

    # price window
    ax = fig.add_axes(px_rect(X0, T + 13, X1, T + 292))
    clean(ax, c['ylim'])
    ax.set_zorder(5)
    for g in c['grid']:
        ax.axhline(g, color='#dcdccf', lw=0.9, zorder=0)
    closes = pd.Series([k[3] for k in c['ohlc']])
    ma5 = closes.rolling(5, min_periods=1).mean()
    ax.plot(ma_x, c['ma60'], color='#ee8cee', lw=1.1, zorder=2)
    ax.plot(ma_x, c['ma40'], color='#3434dc', lw=1.1, zorder=2)
    ax.plot(ma_x, c['ma20'], color='#7b4fa0', lw=1.0, zorder=2)
    ax.plot(ma_x, c['ma10'], color='#f39c34', lw=0.9, zorder=2)
    ax.plot(np.arange(len(ma5)), ma5, color='#2f3f55', lw=0.8, zorder=2)
    draw_candles(ax, c['ohlc'])
    draw_sar(ax, c['sar_up'], '#ff3333')
    draw_sar(ax, c['sar_dn'], '#33d633')
    for p0, p1 in c['red']:
        arrow(ax, p0, p1, '#ff1a1a', 19)
    for p0, p1 in c['blue']:
        arrow(ax, p0, p1, '#1e8fff', 15)
    for r in c['rings']:
        ring(ax, *r)

    prev = None
    for s, col in c['legend']:
        if prev is None:
            prev = ax.text((c['legend_x'] - X0) / 576, 1 - 7 / 279, s, transform=ax.transAxes, fontsize=6.7,
                           color=col, va='center', ha='left', family=SANS, clip_on=True, zorder=6)
        else:
            prev = ax.annotate(s, xy=(1, 0.5), xycoords=prev, xytext=(3.5, 0), textcoords='offset points',
                               fontsize=6.7, color=col, va='center', ha='left', family=SANS, zorder=6)

    nx, ny, step = c['note_at']
    for i, line in enumerate(c['note']):
        ax.text((nx - X0) / 576, 1 - (ny + i * step - T - 13) / 279, line, transform=ax.transAxes,
                fontsize=c['note_size'], color='#ff2222', va='center', ha='left', clip_on=True, zorder=7)
    for s, x, y in c['marks']:
        ax.text(x, y, s, ha='right', va='center', fontsize=7.5, family=SANS, color='#1f2a3a', zorder=6)
    if c['timer']:
        ax.text((612 - X0) / 576, 1 - (c['timer'][1] - T - 13) / 279, c['timer'][0], transform=ax.transAxes,
                ha='right', va='center', fontsize=7.5, color='#1f2a3a', zorder=6)
    tx, ty, tsize = c['title_at']
    fig.text(tx / W, 1 - ty / H, c['title'], fontsize=tsize, color='#ff1414', ha='center', va='center', zorder=20)

    # KDJ window
    kd = fig.add_axes(px_rect(X0, T + 292, X1, T + 367))
    clean(kd, (0, 100))
    kd.axhline(c['kdj_grid'], color='#dcdccf', lw=0.8, zorder=0)
    kd.plot(c['k_x'], c['k'], color=DARK, lw=1.0)
    kd.plot(c['d_x'], c['d'], color=ORANGE, lw=1.0)
    ring(kd, *c['kdj_ring'])

    # MACD window
    mc = fig.add_axes(px_rect(X0, T + 367, X1, T + 480))
    clean(mc, c['macd_ylim'])
    mc.axhline(0, color='#c8c8ba', lw=0.8, zorder=0)
    mc.axhline(c['macd_grid'], color='#dcdccf', lw=0.8, zorder=0)
    hist = np.array(c['hist'])
    hx = np.arange(len(hist))
    mc.vlines(hx[hist >= 0], 0, hist[hist >= 0], color='#ff3c3c', lw=1.2)
    mc.vlines(hx[hist < 0], 0, hist[hist < 0], color='#2f9e2f', lw=1.2)
    mc.plot(c['dif_x'], c['dif'], color=DARK, lw=1.0)
    mc.plot(c['dea_x'], c['dea'], color=ORANGE, lw=1.0)
    ring(mc, *c['macd_ring'])
    mc.text(-0.003, 0.935, c['macd_label'], transform=mc.transAxes, fontsize=7, color='#666666',
            family=SANS, ha='left', va='center', clip_on=True)
    mc.text(0.998, c['macd_box'][1], c['macd_box'][0], transform=mc.transAxes, ha='right', va='center',
            fontsize=7, color='#2060d0', family=SANS,
            bbox=dict(boxstyle='square,pad=0.15', fc=BG, ec='#3a70d8', lw=0.8))

    # time axis strip
    lab = fig.add_axes(px_rect(X0, T + 480, X1, T + 491))
    clean(lab, (0, 1))
    for tk, tl in zip(day_ticks, day_labels):
        lab.text(tk, 0.5, tl, ha='center', va='center', fontsize=6.5, color='#444444', family=SANS, clip_on=True)
    lab.text(c['cursor'][1], 0.5, c['cursor'][0], ha='center', va='center', fontsize=6.5, color='#2060d0',
             family=SANS, clip_on=False, zorder=5,
             bbox=dict(boxstyle='square,pad=0.2', fc='white', ec='#3a70d8', lw=0.8))


def draw_quote(T, q):
    ax = fig.add_axes(px_rect(622, T, 803, T + 491))
    ax.set_xlim(622, 803)
    ax.set_ylim(T + 491, T)
    ax.set_facecolor(BG)
    ax.set_xticks([])
    ax.set_yticks([])
    for s in ax.spines.values():
        s.set_color('#b8b8b8')
    if q['gold']:
        rows = dict(sell=31, buy=52, fields=[69, 85, 100, 114], head=147, tick0=163, lines=[41, 62, 121, 140])
    else:
        rows = dict(sell=28, buy=48, fields=[66, 81, 96, 111], head=127, tick0=144, lines=[17, 38, 58, 119])
    ax.text(712, T + 8.5, q['name'], fontsize=10.5, family=SERIF, color='#333333', ha='center', va='center')
    ax.add_patch(Rectangle((789, T + 4), 10, 8, fill=False, ec='#3d6db0', lw=1))
    if q['gold']:
        ax.add_patch(Rectangle((622, T + 17), 91, 3, fc='#e01010', ec='none'))
        ax.add_patch(Rectangle((713, T + 17), 90, 3, fc='#108a10', ec='none'))
    else:
        ax.hlines(T + rows['lines'][0], 622, 803, color='#c4c4c4', lw=0.8)
    for ly in rows['lines'][1:]:
        ax.hlines(T + ly, 622, 803, color='#c4c4c4', lw=0.8)

    for key, label in (('sell', '卖出'), ('buy', '买入')):
        y = T + rows[key]
        price, col = q[key]
        ax.text(626, y, label, fontsize=9, color='#222222', va='center')
        t = ax.text(650, y, price, fontsize=15, family=SERIF, color=CK[col], va='center')
        ax.annotate(q['qty'], xy=(1, 0.5), xycoords=t, xytext=(3, 0), textcoords='offset points',
                    fontsize=15, family=SERIF, color='#223344', va='center')

    f = q['fields']
    pairs = [(f[0], f[1]), (f[2], f[3]), (f[4], f[5]), (f[6], None)]
    for (a, b), fy in zip(pairs, rows['fields']):
        y = T + fy
        ax.text(626, y, a[0], fontsize=8.5, color='#222222', va='center')
        ax.text(707, y, a[1], fontsize=9, family=SERIF, color=CK[a[2]], va='center', ha='right')
        if b:
            ax.text(717, y, b[0], fontsize=8.5, color='#222222', va='center')
            ax.text(799, y, b[1], fontsize=9, family=SERIF, color=CK[b[2]], va='center', ha='right')

    if q['gold']:
        ax.add_patch(Rectangle((622, T + 123), 181, 15, fc='#f7dca0', ec='none'))
        ax.text(626, T + 130.5, '单位', fontsize=8.5, color='#222222', va='center')
        ax.text(700, T + 130.5, '元/克', fontsize=8.5, color='#222222', va='center', ha='center')
        ax.text(799, T + 130.5, '✔美元/盎司', fontsize=8.5, color='#222222', va='center', ha='right',
                family=['Noto Sans CJK SC', 'DejaVu Sans'])
    hy = T + rows['head']
    ax.text(626, hy, '北京', fontsize=8.5, color='#222222', va='center')
    ax.text(718, hy, '价格', fontsize=8.5, color='#222222', va='center', ha='center')
    ax.text(799, hy, '现手', fontsize=8.5, color='#222222', va='center', ha='right')

    for k, (tm, pr, col) in enumerate(q['ticks']):
        y = T + rows['tick0'] + 16.5 * k
        if tm.startswith(':'):
            ax.text(650, y, tm, fontsize=6.5, fontweight='bold', family=SANS, color='#34405a', va='center', ha='right')
        else:
            ax.text(626, y, tm, fontsize=9, family=SERIF, color='#34405a', va='center')
        ax.text(708, y, pr, fontsize=9.5, family=SERIF, color=CK[col], va='center', ha='center')
        ax.text(797, y, '0', fontsize=9, family=SERIF, color=GRAY, va='center', ha='right')
    ax.add_patch(Rectangle((797, T + rows['tick0'] - 2), 5, 11, fc='#555555', ec='none', zorder=4))
    ax.add_patch(Rectangle((797, T + rows['tick0'] + 9), 5, 31, fc='#3aa03a', ec='none', zorder=4))

    ax.hlines(T + 480, 622, 803, color='#b8b8b8', lw=0.8)
    ax.plot([625, 625, 648, 648], [T + 491, T + 481, T + 481, T + 491], color='#b8b8b8', lw=0.8)
    ax.text(636, T + 486, '笔', fontsize=7, color='#444444', ha='center', va='center')


usd = dict(ohlc=usd_ohlc, ma10=usd_ma10, ma20=usd_ma20, ma40=usd_ma40, ma60=usd_ma60,
           sar_up=usd_sar_up, sar_dn=usd_sar_dn, red=usd_red_arrows, blue=usd_blue_arrows, rings=usd_rings,
           ylim=(101.777, 105.926), grid=[102.0, 102.5, 103.0, 103.5, 104.0, 104.5, 105.0, 105.5],
           legend=[('MA40:103.376', '#2a2ae0'), ('MA60:103.621', '#f08cf0'), ('SAR(10,2,20)', '#7a7a7a'),
                   ('SARUP:0.000', '#ff2020'), ('SARDOWN:102', '#22cc22')], legend_x=43,
           note=usd_note, note_at=(311, 101, 16), note_size=8.5,
           marks=[('105.630→', 29.0, 105.64), ('101.970→', 57.35, 101.95)], timer=None,
           title='美元指数4小时图', title_at=(444, 72, 19.5),
           k_x=usd_k_x, k=usd_k, d_x=usd_d_x, d=usd_d, kdj_grid=35, kdj_ring=(51.65, 39.5, 2.16, 27.9),
           macd_ylim=(-0.17, 0.16), macd_grid=0.108, hist=usd_hist, dif_x=usd_dif_x, dif=usd_dif,
           dea_x=usd_dea_x, dea=usd_dea, macd_ring=(52.6, -0.107, 2.64, 0.075),
           macd_label='D:-0.0265', macd_box=('0.033', 0.61), cursor=('01-06 14:00', 30.5))
eur = dict(ohlc=eur_ohlc, ma10=eur_ma10, ma20=eur_ma20, ma40=eur_ma40, ma60=eur_ma60,
           sar_up=eur_sar_up, sar_dn=eur_sar_dn, red=eur_red_arrows, blue=eur_blue_arrows, rings=eur_rings,
           ylim=(1.04660, 1.08945), grid=[1.050, 1.055, 1.060, 1.065, 1.070, 1.075, 1.080, 1.085],
           legend=[('MA40:1.07186', '#2a2ae0'), ('MA60:1.06845', '#f08cf0'), ('SAR(10,2,20)', '#7a7a7a'),
                   ('SARUP:1.07', '#ff2020'), ('SARDOWN:0.000', '#22cc22')], legend_x=46,
           note=eur_note, note_at=(53, 673, 15.8), note_size=8.5,
           marks=[('1.08690→', 55.8, 1.08668), ('1.04830→', 28.6, 1.04829)], timer=('1时34分11秒', 906),
           title='欧元/美元4小时图', title_at=(306, 642, 17.5),
           k_x=eur_k_x, k=eur_k, d_x=eur_d_x, d=eur_d, kdj_grid=72, kdj_ring=(59.47, 72.4, 2.16, 27.6),
           macd_ylim=(-0.125, 0.202), macd_grid=0.139, hist=eur_hist, dif_x=eur_dif_x, dif=eur_dif,
           dea_x=eur_dea_x, dea=eur_dea, macd_ring=(59.47, 0.147, 2.16, 0.06),
           macd_label=':-0.0005', macd_box=('0.00217', 0.67), cursor=('01-06 14:00', 30.5))
jpy = dict(ohlc=jpy_ohlc, ma10=jpy_ma10, ma20=jpy_ma20, ma40=jpy_ma40, ma60=jpy_ma60,
           sar_up=jpy_sar_up, sar_dn=jpy_sar_dn, red=jpy_red_arrows, blue=jpy_blue_arrows, rings=jpy_rings,
           ylim=(127.166, 135.359), grid=[128, 129, 130, 131, 132, 133, 134],
           legend=[('MA40:131.488', '#2a2ae0'), ('MA60:131.352', '#f08cf0'), ('SAR(10,2,20)', '#7a7a7a'),
                   ('SARUP:0.000', '#ff2020'), ('SARDOWN:129.901', '#22cc22')], legend_x=45,
           note=jpy_note, note_at=(216, 1384, 15.7), note_size=8.5,
           marks=[('134.775→', 28.4, 134.77), ('127.464→', 60.0, 127.46)], timer=('1时29分45秒', 1484),
           title='美元/日元4小时图', title_at=(449, 1230, 17.5),
           k_x=jpy_k_x, k=jpy_k, d_x=jpy_d_x, d=jpy_d, kdj_grid=44, kdj_ring=(50.46, 52.6, 2.4, 30.2),
           macd_ylim=(-0.176, 0.154), macd_grid=-0.121, hist=jpy_hist, dif_x=jpy_dif_x, dif=jpy_dif,
           dea_x=jpy_dea_x, dea=jpy_dea, macd_ring=(49.78, -0.001, 3.6, 0.05),
           macd_label='D:-0.5434', macd_box=('0.256', 0.71), cursor=('01-06 05:59', 28.3))
gold = dict(ohlc=gold_ohlc, ma10=gold_ma10, ma20=gold_ma20, ma40=gold_ma40, ma60=gold_ma60,
            sar_up=gold_sar_up, sar_dn=gold_sar_dn, red=gold_red_arrows, blue=gold_blue_arrows, rings=gold_rings,
            ylim=(1790.64, 1931.06), grid=[1800, 1820, 1840, 1860, 1880, 1900, 1920],
            legend=[('960', '#333333'), ('MA40:1876.486', '#2a2ae0'), ('MA60:1864.796', '#f08cf0'),
                    ('SAR(10,2,20)', '#7a7a7a'), ('SARUP:1891', '#ff2020'), ('SARDOWN:0.000', '#22cc22')], legend_x=43,
            note=gold_note, note_at=(48, 1815, 15.5), note_size=8.8,
            marks=[('1922.100→', 62.0, 1922.0)], timer=('2时23分43秒', 2058),
            title='黄金4小时图', title_at=(271, 1790, 17.5),
            k_x=gold_k_x, k=gold_k, d_x=gold_d_x, d=gold_d, kdj_grid=41, kdj_ring=(52.04, 49.7, 3.6, 17.9),
            macd_ylim=(-0.082, 0.22), macd_grid=0.108, hist=gold_hist, dif_x=gold_dif_x, dif=gold_dif,
            dea_x=gold_dea_x, dea=gold_dea, macd_ring=(53.96, 0.11, 2.64, 0.05),
            macd_label='CD:4.8588', macd_box=('7.370', 0.66), cursor=('01-06 15:00', 30.5))

quotes = [
    dict(name='美元指数(USD)', sell=('102.210', 'r'), buy=('102.170', 'g'), qty='0', fields=usd_fields,
         ticks=usd_ticks, gold=False),
    dict(name='欧元美元(EURUSD)', sell=('1.08351', 'r'), buy=('1.08350', 'r'), qty='0', fields=eur_fields,
         ticks=[(t, p, 'r') for t, p in zip(eur_times, eur_prices)], gold=False),
    dict(name='美元日元(USDJPY)', sell=('128.147', 'r'), buy=('128.134', 'r'), qty='0', fields=jpy_fields,
         ticks=[(t, p, 'r') for t, p in zip(jpy_times, jpy_prices)], gold=False),
    dict(name='现货黄金(AU)', sell=('1919.283', 'r'), buy=('1918.915', 'r'), qty='100', fields=gold_fields,
         ticks=[(t, p, 'r') for t, p in zip(gold_times, gold_prices)], gold=True),
]

tops = [48, 621, 1197, 1773]
for T, c, q in zip(tops, [usd, eur, jpy, gold], quotes):
    draw_quote(T, q)
    draw_chart(T, c)

fig.savefig('out.png', dpi=100)
